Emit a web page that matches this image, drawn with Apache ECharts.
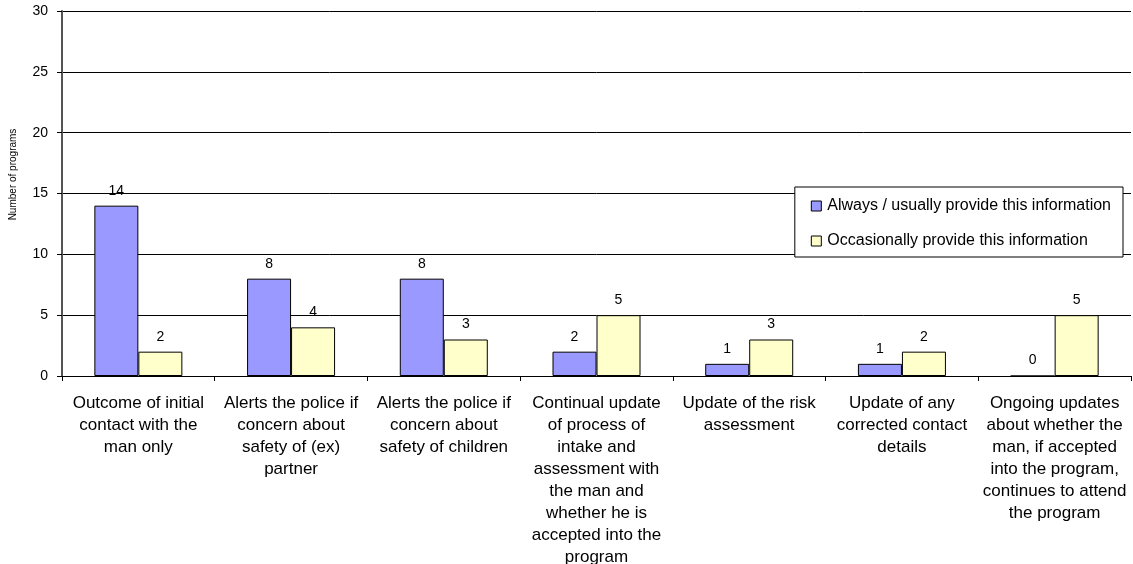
<!DOCTYPE html>
<html>
<head>
<meta charset="utf-8">
<script src="https://cdn.jsdelivr.net/npm/echarts@6/dist/echarts.min.js"></script>
<style>
  html, body { margin: 0; padding: 0; background: #fff; }
  #chart { width: 1133px; height: 564px; }
</style>
</head>
<body>
<div id="chart"></div>
<script>
// Information given to partners, by how often programs provide it
const categories = [
  "Outcome of initial\ncontact with the\nman only",
  "Alerts the police if\nconcern about\nsafety of (ex)\npartner",
  "Alerts the police if\nconcern about\nsafety of children",
  "Continual update\nof process of\nintake and\nassessment with\nthe man and\nwhether he is\naccepted into the\nprogram",
  "Update of the risk\nassessment",
  "Update of any\ncorrected contact\ndetails",
  "Ongoing updates\nabout whether the\nman, if accepted\ninto the program,\ncontinues to attend\nthe program"
];
const seriesNames = [
  "Always / usually provide this information",
  "Occasionally provide this information"
];
const alwaysUsually = [14, 8, 8, 2, 1, 1, 0];
const occasionally = [2, 4, 3, 5, 3, 2, 5];
const yTicks = { min: 0, max: 30, interval: 5 };

const FONT = "'Liberation Sans', Arial, sans-serif";
const chart = echarts.init(document.getElementById('chart'), null, { renderer: 'canvas' });

function barSeries(name, data, color) {
  return {
    name: name,
    type: 'bar',
    data: data,
    barWidth: 44,
    barGap: '0%',
    itemStyle: { color: color, borderColor: '#000', borderWidth: 1 },
    label: {
      show: true,
      position: 'top',
      distance: 8,
      color: '#000',
      fontFamily: FONT,
      fontSize: 14
    },
    emphasis: { disabled: true },
    animation: false
  };
}

chart.setOption({
  animation: false,
  backgroundColor: '#fff',
  grid: {
    left: 62, right: 2, top: 11, bottom: 188,
    containLabel: false,
    outerBoundsMode: 'none'
  },
  legend: {
    orient: 'vertical',
    right: 10,
    top: 187,
    padding: [11, 12, 8, 16],
    itemGap: 19,
    itemWidth: 10,
    itemHeight: 10,
    icon: 'rect',
    backgroundColor: '#fff',
    borderColor: '#000',
    borderWidth: 1,
    borderRadius: 0,
    textStyle: { fontFamily: FONT, fontSize: 16, color: '#000', padding: [0, 0, 0, 1] },
    itemStyle: { borderColor: '#000', borderWidth: 1 },
    data: seriesNames
  },
  xAxis: {
    type: 'category',
    data: categories,
    axisLine: { lineStyle: { color: '#000', width: 1 } },
    axisTick: { show: true, length: 5, lineStyle: { color: '#000' } },
    axisLabel: {
      interval: 0,
      margin: 16,
      color: '#000',
      fontFamily: FONT,
      fontSize: 17,
      lineHeight: 22
    }
  },
  yAxis: {
    type: 'value',
    min: yTicks.min,
    max: yTicks.max,
    interval: yTicks.interval,
    name: 'Number of programs',
    nameLocation: 'middle',
    nameGap: 44,
    nameRotate: 90,
    nameTextStyle: { fontFamily: FONT, fontSize: 10, color: '#000', padding: [0, 0, 0, 38] },
    axisLine: { show: true, lineStyle: { color: '#555', width: 2 } },
    axisTick: { show: true, length: 5, lineStyle: { color: '#000' } },
    axisLabel: { color: '#000', fontFamily: FONT, fontSize: 14, margin: 14 },
    splitLine: { show: true, lineStyle: { color: '#000', width: 1 } }
  },
  series: [
    barSeries(seriesNames[0], alwaysUsually, '#9999FF'),
    barSeries(seriesNames[1], occasionally, '#FFFFCC')
  ]
});
</script>
</body>
</html>
